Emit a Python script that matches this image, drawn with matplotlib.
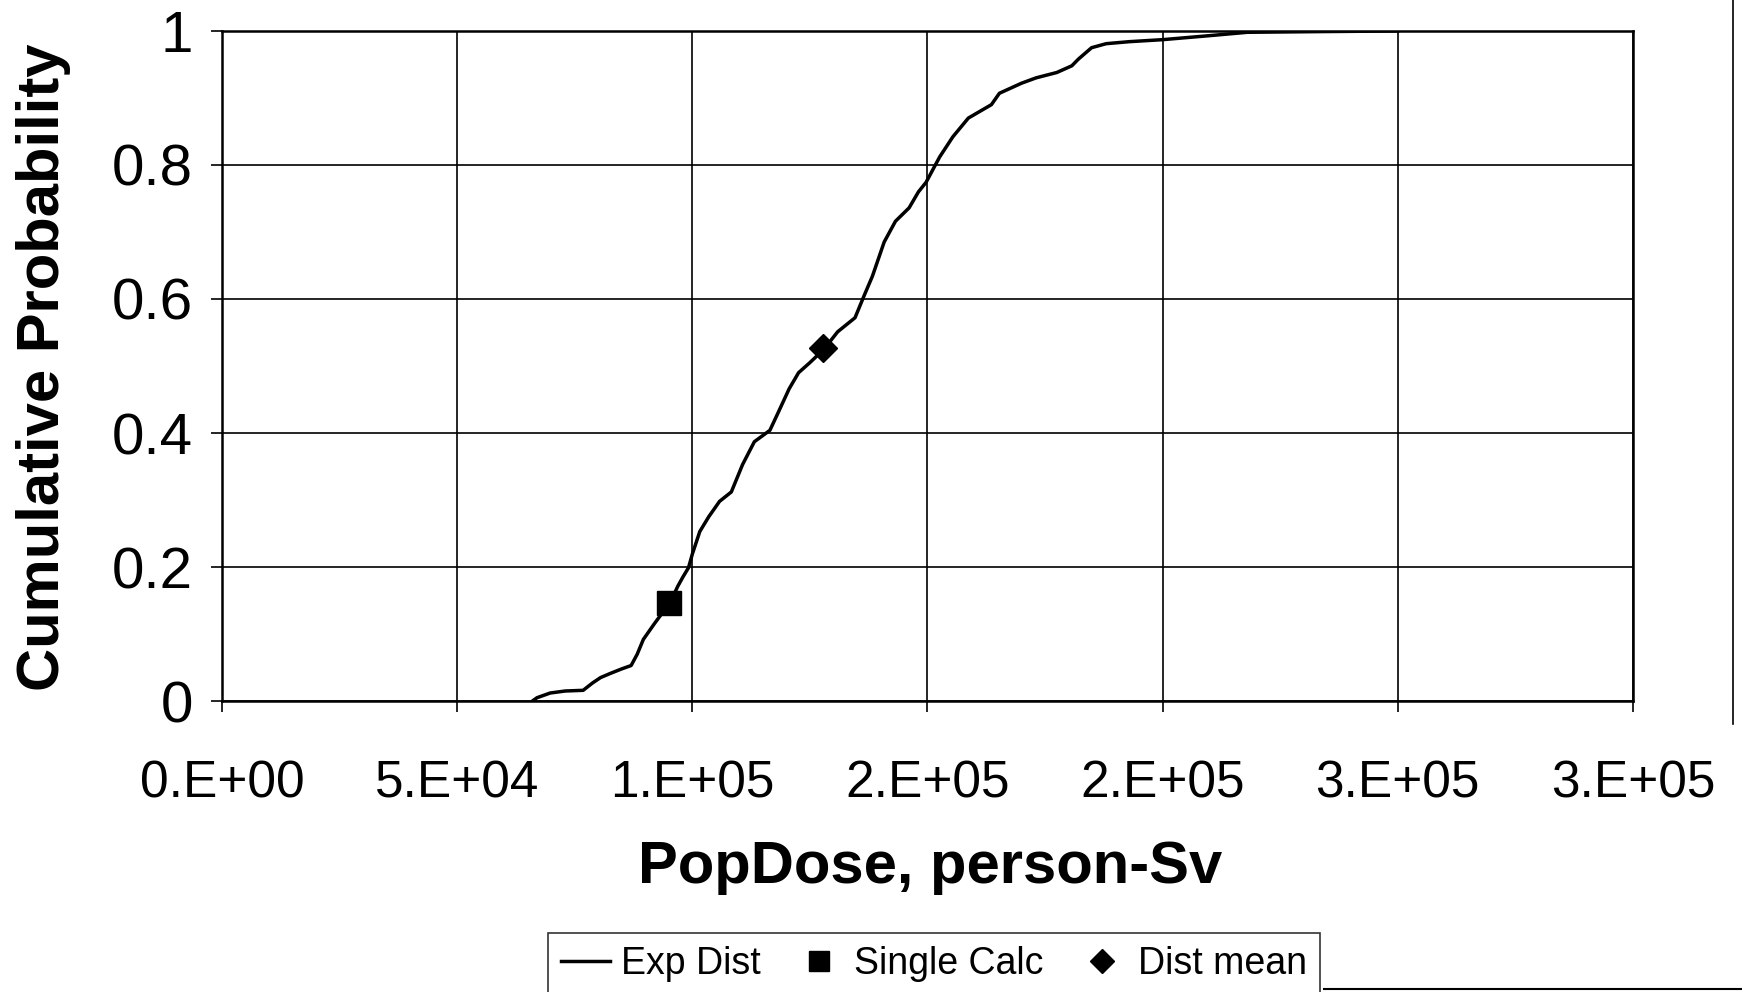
import matplotlib
matplotlib.use("Agg")
import matplotlib.pyplot as plt
from matplotlib.lines import Line2D

plt.rcParams["font.family"] = ["Liberation Sans", "DejaVu Sans"]

dose = [66000, 67000, 69800, 73000, 76800, 78800, 80500, 82500, 85000, 87000,
        88300, 89600, 92000, 94000, 95500, 96900, 98000, 99200, 100000, 101600,
        103500, 105800, 108300, 110700, 113200, 116500, 118100, 120600, 122600,
        125000, 128000, 130900, 134600, 136600, 138300, 140800, 143200, 146100,
        148100, 149700, 152600, 155400, 158700, 163600, 165300, 170000, 173100,
        177500, 180700, 182100, 184900, 188000, 192900, 200000, 210000, 218000,
        233000, 250000]
cum_prob = [0.0, 0.005, 0.012, 0.015, 0.016, 0.027, 0.035, 0.041, 0.048, 0.053,
            0.07, 0.092, 0.116, 0.135, 0.15, 0.171, 0.185, 0.199, 0.219, 0.253,
            0.275, 0.298, 0.312, 0.353, 0.387, 0.404, 0.428, 0.466, 0.49,
            0.505, 0.525, 0.551, 0.572, 0.606, 0.634, 0.685, 0.716, 0.736,
            0.76, 0.774, 0.812, 0.842, 0.87, 0.89, 0.907, 0.922, 0.93,
            0.938, 0.948, 0.958, 0.975, 0.981, 0.984, 0.987, 0.993, 0.998,
            0.999, 1.0]

single_calc_x = [95000]
single_calc_y = [0.147]
dist_mean_x = [127800]
dist_mean_y = [0.527]

x_ticks = [0, 50000, 100000, 150000, 200000, 250000, 300000]
x_tick_labels = ["0.E+00", "5.E+04", "1.E+05", "2.E+05", "2.E+05", "3.E+05", "3.E+05"]
y_ticks = [0, 0.2, 0.4, 0.6, 0.8, 1.0]
y_tick_labels = ["0", "0.2", "0.4", "0.6", "0.8", "1"]

fig = plt.figure(figsize=(17.42, 9.92), dpi=100)
ax = fig.add_axes([0.1274, 0.2933, 0.81, 0.6755])

ax.plot(dose, cum_prob, color="black", lw=2.5, label="Exp Dist", zorder=3)
ax.plot(single_calc_x, single_calc_y, "s", color="black", ms=17, label="Single Calc",
        linestyle="none", zorder=4)
ax.plot(dist_mean_x, dist_mean_y, "D", color="black", ms=14, label="Dist mean",
        linestyle="none", zorder=4)

ax.set_xlim(0, 300000)
ax.set_ylim(0, 1)
ax.set_xticks(x_ticks)
ax.set_xticklabels(x_tick_labels)
ax.set_yticks(y_ticks)
ax.set_yticklabels(y_tick_labels)
ax.grid(True, color="black", lw=1.2)
ax.set_axisbelow(True)
for s in ax.spines.values():
    s.set_linewidth(1.8)
ax.tick_params(axis="x", direction="out", length=8, width=1.2, labelsize=37, pad=34)
ax.tick_params(axis="y", direction="out", length=8, width=1.2, labelsize=42, pad=13)

fig.text(0.025, 0.63, "Cumulative Probability", rotation=90, ha="center", va="center",
         fontsize=43, fontweight="bold")
fig.text(0.534, 0.126, "PopDose, person-Sv", ha="center", va="center",
         fontsize=43, fontweight="bold")

handles, labels = ax.get_legend_handles_labels()
leg = fig.legend(handles, labels, loc="lower center", bbox_to_anchor=(0.536, -0.022),
                 ncol=3, fontsize=27, frameon=True, fancybox=False, edgecolor="black",
                 handlelength=1.3, handletextpad=0.3, columnspacing=0.9,
                 borderpad=0.35, markerscale=0.85)
leg.get_frame().set_linewidth(1.2)

# outer chart border remnants from the scan
fig.add_artist(Line2D([0.995, 0.995], [0.27, 1.0], color="black", lw=1.2))
fig.add_artist(Line2D([0.76, 1.0], [0.003, 0.003], color="black", lw=1.5))

fig.savefig("out.png", dpi=100)
